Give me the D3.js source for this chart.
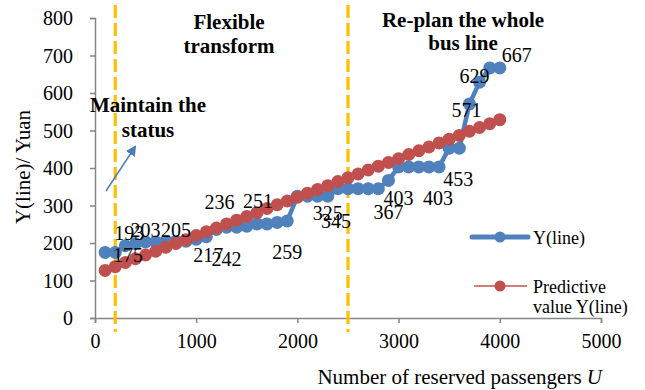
<!DOCTYPE html>
<html>
<head>
<meta charset="utf-8">
<script src="https://cdn.jsdelivr.net/npm/d3@7"></script>
<style>
  body { margin: 0; background: #fff; }
  text { font-family: "Liberation Serif", "Times New Roman", serif; }
</style>
</head>
<body>
<div id="main"></div>
<script>
// reserved passengers U
const passengers = [100, 200, 300, 400, 500, 600, 700, 800, 900, 1000,
  1100, 1200, 1300, 1400, 1500, 1600, 1700, 1800, 1900, 2000,
  2100, 2200, 2300, 2400, 2500, 2600, 2700, 2800, 2900, 3000,
  3100, 3200, 3300, 3400, 3500, 3600, 3700, 3800, 3900, 4000];
// Y(line)
const yLine = [175, 175, 193, 198, 203, 203, 205, 205, 205, 210,
  217, 236, 242, 242, 245, 251, 251, 255, 259, 325,
  325, 325, 325, 345, 345, 345, 345, 345, 367, 403,
  403, 403, 403, 403, 453, 453, 571, 629, 667, 667];
// predictive value Y(line)
const predictive = [127, 137, 148, 158, 168, 178, 189, 199, 209, 220,
  230, 240, 251, 261, 271, 281, 292, 302, 312, 322,
  333, 343, 353, 364, 374, 384, 395, 405, 415, 425,
  436, 446, 456, 467, 477, 487, 498, 508, 518, 529];
// points that carry a data label
const labelIdx = [0, 2, 4, 7, 10, 11, 12, 15, 18, 22, 23, 28, 29, 33, 35, 36, 37, 39];
const xTicks = [0, 1000, 2000, 3000, 4000, 5000];
const yTicks = [0, 100, 200, 300, 400, 500, 600, 700, 800];
const phaseBounds = [200, 2500];

// label placement (dx, dy, anchor) per labelled point
const labelPos = [[8, 10, "start"], [4, -6, "middle"], [0, -5, "middle"], [0, -4, "middle"],
  [2, 25, "middle"], [3, -21, "middle"], [0, 39, "middle"], [1, -16, "middle"],
  [0, 38, "middle"], [0, 24, "middle"], [-2, 39, "middle"], [0, 39, "middle"],
  [0, 38, "middle"], [-1, 38, "middle"], [-1, 38, "middle"], [-3, 13, "middle"],
  [-5, 1, "middle"], [2, -6, "start"]];

const W = 645, H = 390;
const BLUE = "#4F81BD", RED = "#C0504D", GOLD = "#FFC000", AXIS = "#868686";

const svg = d3.select("#main").append("svg")
    .attr("width", W).attr("height", H);
svg.append("rect").attr("width", W).attr("height", H).attr("fill", "#fff");

const x = d3.scaleLinear().domain([0, 5000]).range([95, 601]);
const y = d3.scaleLinear().domain([0, 800]).range([318, 18]);

// axes
const xAxis = svg.append("g").attr("transform", `translate(0,${y(0)})`)
    .call(d3.axisBottom(x).tickValues(xTicks).tickFormat(d3.format("d"))
      .tickSize(5).tickPadding(6));
const yAxis = svg.append("g").attr("transform", `translate(${x(0)},0)`)
    .call(d3.axisLeft(y).tickValues(yTicks).tickFormat(d3.format("d"))
      .tickSize(5).tickPadding(17));
[xAxis, yAxis].forEach(g => {
  g.select(".domain").attr("stroke", AXIS).attr("stroke-width", 1.5);
  g.selectAll(".tick line").attr("stroke", AXIS).attr("stroke-width", 1.5);
  g.selectAll(".tick text").attr("fill", "#000")
      .style("font-family", "Liberation Serif").style("font-size", "20px");
});
xAxis.selectAll(".tick text").attr("dy", "0.95em");
yAxis.selectAll(".tick text").attr("dy", "0.33em");

// phase boundaries
svg.append("g").selectAll("line").data(phaseBounds).join("line")
    .attr("x1", d => x(d)).attr("x2", d => x(d))
    .attr("y1", y(835)).attr("y2", y(-37))
    .attr("stroke", GOLD).attr("stroke-width", 3.2)
    .attr("stroke-dasharray", "13,5");

const pts = passengers.map((u, i) => ({u, a: yLine[i], p: predictive[i]}));

// Y(line)
svg.append("path").datum(pts)
    .attr("fill", "none").attr("stroke", BLUE).attr("stroke-width", 4.5)
    .attr("stroke-linejoin", "round")
    .attr("d", d3.line().x(d => x(d.u)).y(d => y(d.a)));
svg.append("g").selectAll("circle").data(pts).join("circle")
    .attr("cx", d => x(d.u)).attr("cy", d => y(d.a)).attr("r", 6.5)
    .attr("fill", BLUE);

// predictive
svg.append("path").datum(pts)
    .attr("fill", "none").attr("stroke", RED).attr("stroke-width", 1.5)
    .attr("d", d3.line().x(d => x(d.u)).y(d => y(d.p)));
svg.append("g").selectAll("circle").data(pts).join("circle")
    .attr("cx", d => x(d.u)).attr("cy", d => y(d.p)).attr("r", 6.5)
    .attr("fill", RED);

// data labels
svg.append("g").selectAll("text").data(labelIdx).join("text")
    .attr("x", (d, k) => x(passengers[d]) + labelPos[k][0])
    .attr("y", (d, k) => y(yLine[d]) + labelPos[k][1])
    .attr("text-anchor", (d, k) => labelPos[k][2])
    .style("font-size", "20px")
    .text(d => yLine[d]);

// phase notes
const notes = [
  {t: "Flexible", x: 229, y: 29}, {t: "transform", x: 229, y: 53},
  {t: "Maintain the", x: 148, y: 112}, {t: "status", x: 148, y: 137},
  {t: "Re-plan the whole", x: 463, y: 27}, {t: "bus line", x: 463, y: 50}
];
svg.append("g").selectAll("text").data(notes).join("text")
    .attr("x", d => d.x).attr("y", d => d.y)
    .attr("text-anchor", "middle")
    .style("font-size", "21px").style("font-weight", "bold")
    .text(d => d.t);

// arrow
svg.append("defs").append("marker")
    .attr("id", "arr").attr("viewBox", "0 0 10 10")
    .attr("refX", 8).attr("refY", 5)
    .attr("markerWidth", 7).attr("markerHeight", 7)
    .attr("orient", "auto")
  .append("path").attr("d", "M0,0 L10,5 L0,10 z").attr("fill", "#4A7EBB");
svg.append("line")
    .attr("x1", 106).attr("y1", 191).attr("x2", 135).attr("y2", 147)
    .attr("stroke", "#4A7EBB").attr("stroke-width", 1.5)
    .attr("marker-end", "url(#arr)");

// axis titles
svg.append("text")
    .attr("transform", `translate(30,${167}) rotate(-90)`)
    .attr("text-anchor", "middle").style("font-size", "21px")
    .text("Y(line)/ Yuan");
const xt = svg.append("text")
    .attr("x", 602).attr("y", 384).attr("text-anchor", "end")
    .style("font-size", "21px");
xt.append("tspan").text("Number of reserved passengers ");
xt.append("tspan").style("font-style", "italic").text("U");

// legend
const legend = svg.append("g");
legend.append("line").attr("x1", 472).attr("x2", 528).attr("y1", 237).attr("y2", 237)
    .attr("stroke", BLUE).attr("stroke-width", 5).attr("stroke-linecap", "round");
legend.append("circle").attr("cx", 500).attr("cy", 237).attr("r", 5.5).attr("fill", BLUE);
legend.append("text").attr("x", 533).attr("y", 244).style("font-size", "18px").text("Y(line)");
legend.append("line").attr("x1", 474).attr("x2", 527).attr("y1", 286).attr("y2", 286)
    .attr("stroke", RED).attr("stroke-width", 1.5);
legend.append("circle").attr("cx", 500).attr("cy", 286).attr("r", 5.5).attr("fill", RED);
legend.append("text").attr("x", 533).attr("y", 293).style("font-size", "18px").text("Predictive");
legend.append("text").attr("x", 533).attr("y", 313).style("font-size", "18px").text("value Y(line)");
</script>
</body>
</html>
